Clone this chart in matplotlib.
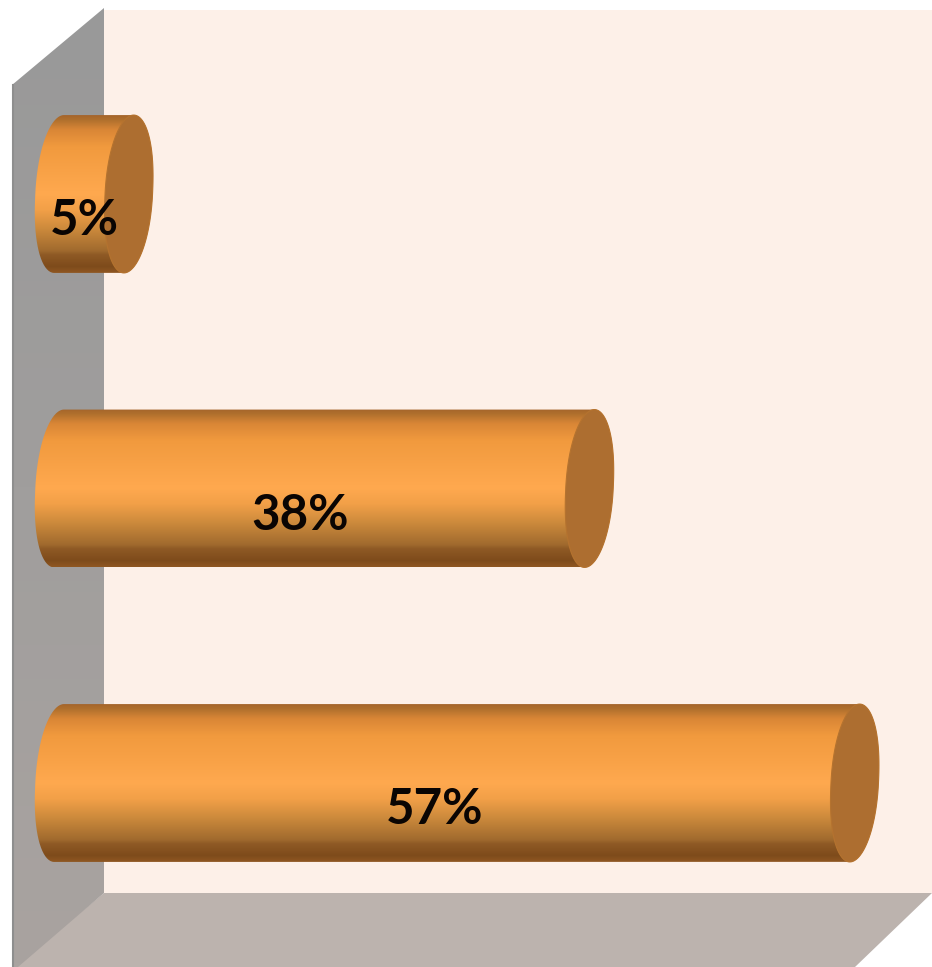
import numpy as np
import matplotlib
matplotlib.use('Agg')
import matplotlib.pyplot as plt
from matplotlib.colors import LinearSegmentedColormap
from matplotlib.patches import Polygon, PathPatch
from matplotlib.path import Path

values = [5, 38, 57]
labels = ['5%', '38%', '57%']
label_shift = [-0.7, -1.7, -1.6]

bar_half = 0.268
end_a = 1.7
end_shear = 0.35

body_cmap = LinearSegmentedColormap.from_list('body', [
    (0.00, '#a5652b'), (0.03, '#b0702d'), (0.09, '#d98636'), (0.20, '#f19a3e'),
    (0.50, '#ffa94f'), (0.60, '#f2a048'), (0.72, '#cc8a3c'), (0.86, '#a06a2e'),
    (0.885, '#8f5a25'), (0.96, '#7e4b1b'), (1.00, '#8f5722')])
side_cmap = LinearSegmentedColormap.from_list('side', ['#999999', '#a09e9d', '#a9a3a0'])

fig = plt.figure(figsize=(9.32, 9.67), dpi=100)

# box walls, drawn in figure pixels behind the bars
bg = fig.add_axes([0, 0, 1, 1])
bg.set_xlim(0, 932)
bg.set_ylim(967, 0)
bg.axis('off')
bg.add_patch(Polygon([(104, 10), (932, 10), (932, 893), (104, 893)], fc='#fdf0e8', ec='none'))
bg.add_patch(Polygon([(104, 893), (932, 893), (855, 967), (14, 967)], fc='#bcb3ae', ec='none'))
side = Polygon([(12, 85), (104, 8), (104, 893), (18, 967), (12, 967)], fc='none', ec='none')
bg.add_patch(side)
im = bg.imshow(np.linspace(0, 1, 256).reshape(-1, 1), cmap=side_cmap, aspect='auto',
               extent=(12, 104, 967, 8), zorder=1)
im.set_clip_path(side)
bg.plot([12.5, 12.5], [85, 967], color='#8e8e8e', lw=1.5, zorder=2)
bg.set_xlim(0, 932)
bg.set_ylim(967, 0)

# value axis: 13.96 px per percent, zero at x=59 px; categories 294.5 px apart
ax = fig.add_axes([0, 0, 1, 1], facecolor='none')
ax.set_xlim(-59 / 13.96, (932 - 59) / 13.96)
ax.set_ylim((967 - 194) / 294.5, -194 / 294.5)
ax.axis('off')
x_range = ax.get_xlim()
y_range = ax.get_ylim()


def end_outline(cx, cy, t):
    # slightly sheared ellipse for the cylinder ends
    c, s = np.cos(t), np.sin(t)
    x = cx + end_a * c - end_shear * s
    y = cy + bar_half * np.sign(s) * np.abs(s) ** 0.92
    return np.column_stack([x, y])


for i, (v, lab, dx) in enumerate(zip(values, labels, label_shift)):
    t_left = np.linspace(-np.pi / 2, -3 * np.pi / 2, 80)
    t_right = np.linspace(np.pi / 2, -np.pi / 2, 80)
    outline = np.vstack([end_outline(0, i, t_left), end_outline(v, i, t_right)])
    body = PathPatch(Path(np.vstack([outline, outline[0]])), fc='none', ec='none')
    ax.add_patch(body)
    grad = ax.imshow(np.linspace(0, 1, 256).reshape(-1, 1), cmap=body_cmap, aspect='auto',
                     extent=(-3, v + 3, i + bar_half, i - bar_half), zorder=2)
    grad.set_clip_path(body)

    t = np.linspace(0, 2 * np.pi, 160)
    ax.add_patch(Polygon(end_outline(v, i, t), fc='#ad6e30', ec='#b5732f', lw=0.8, zorder=3))
    ax.text(v / 2 + dx, i + 0.09, lab, ha='center', va='center', fontsize=35.5,
            family='Lato', fontweight='bold', color='#0a0503', zorder=4)

ax.set_xlim(x_range)
ax.set_ylim(y_range)

fig.savefig('out.png', dpi=100)
